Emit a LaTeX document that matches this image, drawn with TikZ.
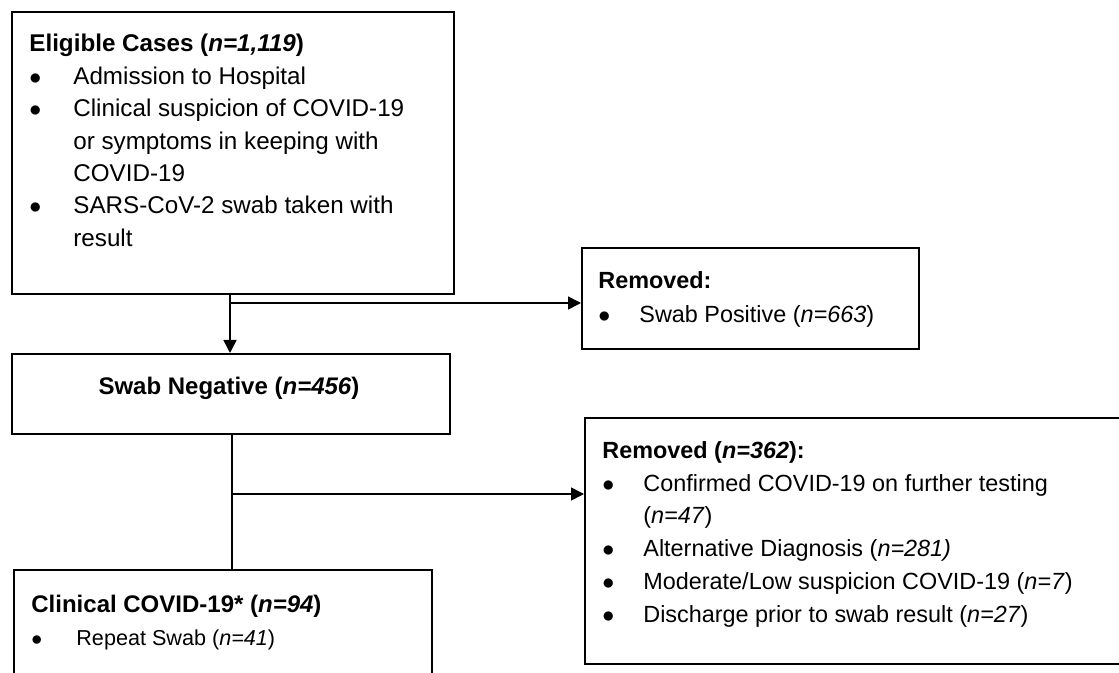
\documentclass[tikz,border=0pt]{standalone}
\usepackage{fontspec}
\setmainfont{Liberation Sans}
\usetikzlibrary{arrows.meta}
\tikzset{
  box/.style={draw, line width=0.8pt, inner sep=0pt, anchor=north west},
  boxtext/.style={anchor=north west, inner sep=0pt, align=left, font=\fontsize{11.7}{16.4}\selectfont},
  flow/.style={line width=0.8pt, -{Triangle[length=6.5pt,width=6.5pt]}},
  link/.style={line width=0.8pt},
}
\newcommand{\itm}[1][20.5pt]{\makebox[#1][l]{$\bullet$}}
\newcommand{\cnt}[1][20.5pt]{\hspace*{#1}}

\begin{document}
\begin{tikzpicture}[x=0.5pt, y=-0.5pt]
\useasboundingbox (0,0) rectangle (1119,673);
\clip (0,0) rectangle (1119,673);
% boxes
\node[box, minimum width=221pt, minimum height=141pt] (elig) at (11,11) {};
\node[box, minimum width=168.5pt, minimum height=50.5pt] (rem1) at (581,247) {};
\node[box, minimum width=219pt, minimum height=40pt] (neg) at (11,353) {};
\node[box, minimum width=209pt, minimum height=65.5pt] (clin) at (13,569) {};
\node[box, minimum width=273pt, minimum height=123pt] (rem2) at (584,417) {};
% texts
\node[boxtext, font=\fontsize{12.1}{16.2}\selectfont] (eligtxt) at (29,34) {\textbf{Eligible Cases (\textit{n=1,119})}\\
  \itm[22pt]Admission to Hospital\\
  \itm[22pt]Clinical suspicion of COVID-19\\
  \cnt[22pt]or symptoms in keeping with\\
  \cnt[22pt]COVID-19\\
  \itm[22pt]SARS-CoV-2 swab taken with\\
  \cnt[22pt]result};
\node[boxtext, font=\fontsize{11.7}{17}\selectfont] (rem1txt) at (598,271) {\textbf{Removed:}\\
  \itm Swab Positive (\textit{n=663})};
\node[anchor=base, inner sep=0pt, font=\fontsize{12}{16.4}\selectfont] (negtxt) at (229,395) {\textbf{Swab Negative (\textit{n=456})}};
\node[boxtext, font=\fontsize{11.7}{16.4}\selectfont] (rem2txt) at (602,441) {\textbf{Removed (\textit{n=362}):}\\
  \itm Confirmed COVID-19 on further testing\\
  \cnt (\textit{n=47})\\
  \itm Alternative Diagnosis (\textit{n=281)}\\
  \itm Moderate/Low suspicion COVID-19 (\textit{n=7})\\
  \itm Discharge prior to swab result (\textit{n=27})};
\node[boxtext, font=\fontsize{12}{16.5}\selectfont] (clintxt) at (31,595) {\textbf{Clinical COVID-19* (\textit{n=94})}\\
  {\fontsize{10.8}{16.5}\selectfont\itm[22.5pt]Repeat Swab (\textit{n=41})}};
% connectors
\coordinate (b1) at (230,303);
\coordinate (b2) at (232,494);
\draw[flow] (b1 |- elig.south) -- (b1 |- neg.north);
\draw[flow] (b1) -- (b1 -| rem1.west);
\draw[link] (b2 |- neg.south) -- (b2 |- clin.north);
\draw[flow] (b2) -- (b2 -| rem2.west);
\end{tikzpicture}
\end{document}
